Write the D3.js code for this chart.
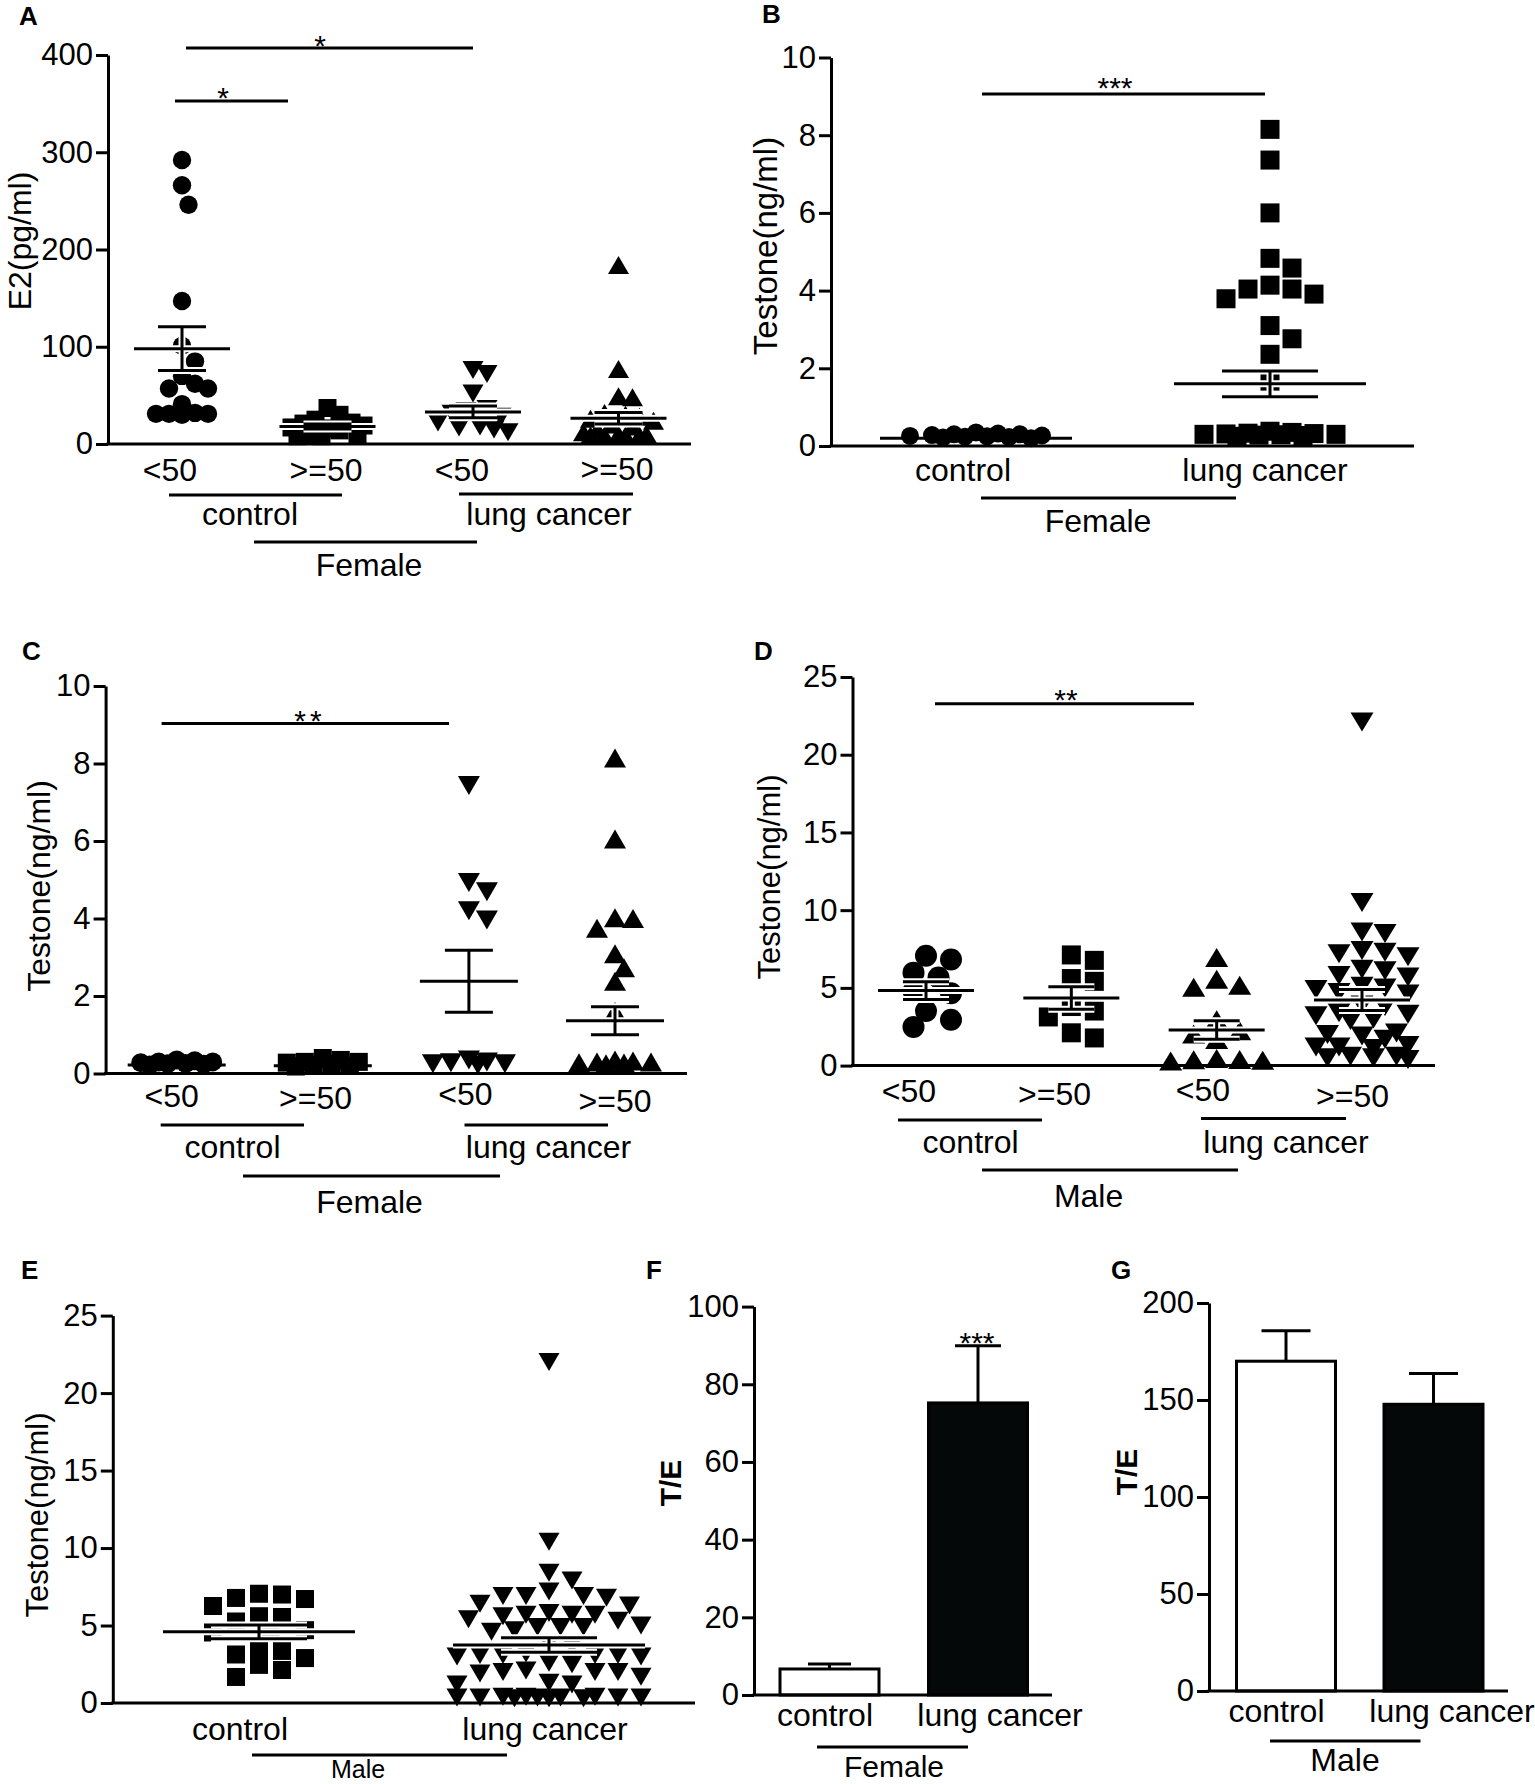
<!DOCTYPE html>
<html><head><meta charset="utf-8">
<script src="https://cdnjs.cloudflare.com/ajax/libs/d3/7.8.5/d3.min.js"></script>
<style>body{margin:0;background:#fff} svg{display:block}</style>
</head><body><svg id="c" width="1535" height="1784"></svg>
<script>
// ---------------- DATA ----------------
// Panel A: E2 (pg/ml), Female
const aCategories = ["<50", ">=50", "<50", ">=50"];
const aCtrlLt50 = [292, 266, 246, 147, 101, 85, 70, 62, 57, 57, 41, 32, 31, 31, 31, 30];
const aCtrlGe50 = [37, 30, 25, 22, 21, 19, 17, 16, 14, 10, 9, 8, 8];
const aLungLt50 = [76, 72, 52, 36, 34, 31, 28, 22, 18, 17, 15, 12];
const aLungGe50 = [184, 77, 49, 48, 32, 30, 28, 26, 24, 20, 18, 15, 12, 10, 10, 9, 9, 9, 9];
const aMeans = [98, 18, 33, 26.5];
const aSems = [22.5, 2.5, 6, 6];
const aTicks = [0, 100, 200, 300, 400];

// Panel B: Testone (ng/ml), Female
const bCategories = ["control", "lung cancer"];
const bControl = [0.32, 0.25, 0.3, 0.22, 0.28, 0.2, 0.26, 0.24, 0.35, 0.27, 0.23, 0.3];
const bLung = [8.15, 7.36, 6.0, 4.83, 4.58, 4.14, 4.04, 3.91, 3.79, 4.04, 3.1, 2.76, 2.36, 1.67,
               0.35, 0.3, 0.28, 0.32, 0.25, 0.38, 0.3, 0.27, 0.33, 0.29, 0.31];
const bMeans = [0.2, 1.6];
const bSems = [0.02, 0.33];
const bTicks = [0, 2, 4, 6, 8, 10];

// Panel C: Testone (ng/ml), Female by age
const cCategories = ["<50", ">=50", "<50", ">=50"];
const cCtrlLt50 = [0.3, 0.25, 0.35, 0.22, 0.28, 0.24, 0.3, 0.26, 0.33];
const cCtrlGe50 = [0.28, 0.22, 0.4, 0.18, 0.3, 0.2, 0.35, 0.25, 0.3];
const cLungLt50 = [7.43, 4.93, 4.69, 4.2, 3.96, 0.3, 0.25, 0.35, 0.22, 0.28, 0.25];
const cLungGe50 = [8.14, 6.05, 4.02, 4.0, 3.75, 3.09, 2.73, 2.38, 1.6, 0.35, 0.3, 0.28, 0.32, 0.25, 0.3, 0.27];
const cMeans = [0.22, 0.2, 2.38, 1.36];
const cSems = [0.02, 0.02, 0.8, 0.36];
const cTicks = [0, 2, 4, 6, 8, 10];

// Panel D: Testone (ng/ml), Male by age
const dCategories = ["<50", ">=50", "<50", ">=50"];
const dCtrlLt50 = [7.07, 6.82, 5.98, 5.67, 4.78, 4.66, 3.51, 2.95, 2.49];
const dCtrlGe50 = [7.12, 6.77, 5.6, 5.42, 3.8, 3.51, 3.13, 2.11, 1.78];
const dLungLt50 = [6.95, 5.55, 5.17, 5.04, 2.95, 2.24, 2.04, 1.68, 0.4, 0.35, 0.45, 0.3, 0.38];
const dLungGe50 = [22.1, 10.5, 8.6, 8.5, 7.4, 7.3, 7.2, 7.0, 6.2, 6.1, 5.8, 5.7, 5.0, 5.1, 4.9, 4.7, 4.6,
                   3.9, 3.8, 3.3, 3.4, 3.2, 3.0, 2.9, 2.0, 2.1, 1.9, 1.7, 1.2, 1.3, 1.1, 1.2, 0.5, 0.6, 0.5, 0.4, 0.6];
const dMeans = [4.83, 4.35, 2.29, 4.22];
const dSems = [0.57, 0.73, 0.6, 0.68];
const dTicks = [0, 5, 10, 15, 20, 25];

// Panel E: Testone (ng/ml), Male
const eCategories = ["control", "lung cancer"];
const eControl = [7.05, 7.0, 6.78, 6.71, 6.26, 5.6, 5.55, 5.26, 4.7, 4.59, 4.55, 3.58, 3.36, 3.13, 2.9, 2.46, 2.13, 1.68];
const eLung = [22.0, 10.4, 8.4, 7.9, 7.2, 6.9, 6.9, 6.8, 6.9, 6.4, 6.3, 5.7, 5.7, 5.6, 5.7, 5.8, 5.4, 5.3,
               4.9, 4.9, 5.0, 4.9, 4.7, 4.6, 3.8, 3.7, 3.1, 3.1, 3.2, 3.0, 3.1, 3.1, 3.0, 2.6, 2.5,
               2.0, 2.0, 1.9, 2.0, 2.1, 1.7, 1.2, 1.2, 1.3,
               0.35, 0.4, 0.3, 0.35, 0.4, 0.35, 0.3, 0.35, 0.4, 0.35, 0.3, 0.35];
const eMeans = [4.59, 3.74];
const eSems = [0.45, 0.47];
const eTicks = [0, 5, 10, 15, 20, 25];

// Panel F: T/E, Female (bars)
const fCategories = ["control", "lung cancer"];
const fMeans = [6.7, 75.2];
const fSems = [1.3, 14.7];
const fTicks = [0, 20, 40, 60, 80, 100];

// Panel G: T/E, Male (bars)
const gCategories = ["control", "lung cancer"];
const gMeans = [170, 147.8];
const gSems = [15.7, 15.9];
const gTicks = [0, 50, 100, 150, 200];

// ---------------- RENDER ----------------
const FONT = '"Liberation Sans", Arial, Helvetica, sans-serif';
const svg = d3.select("#c");

function txt(t, x, y, size, opts = {}) {
  const el = svg.append("text").attr("x", x).attr("y", y).text(t)
    .attr("font-family", FONT).attr("font-size", size).attr("fill", "#000")
    .attr("text-anchor", opts.anchor || "middle");
  if (opts.bold) el.attr("font-weight", "bold");
  if (opts.ls) el.attr("letter-spacing", opts.ls);
  return el;
}
function rotTxt(t, x, y, size, bold) {
  svg.append("text").attr("transform", `translate(${x},${y}) rotate(-90)`).text(t)
    .attr("font-family", FONT).attr("font-size", size).attr("fill", "#000")
    .attr("text-anchor", "middle").attr("font-weight", bold ? "bold" : "normal");
}
function hline(x1, x2, y, w = 3) {
  svg.append("line").attr("x1", x1).attr("x2", x2).attr("y1", y).attr("y2", y)
    .attr("stroke", "#000").attr("stroke-width", w);
}
function drawYAxis(y, x0, ticks) {
  const ax = d3.axisLeft(y).tickValues(ticks).tickSize(12).tickSizeOuter(0).tickPadding(3).tickFormat(d3.format("d"));
  const g = svg.append("g").attr("transform", `translate(${x0},0)`).call(ax);
  g.selectAll("path,line").attr("stroke", "#000").attr("stroke-width", 3);
  g.selectAll("text").attr("font-size", 31).attr("font-family", FONT).attr("fill", "#000");
}
function drawXAxis(x0, x1, y0) { hline(x0 - 1.5, x1, y0, 3); }

function swarm(vals, y, dX, dY, maxHalf) {
  const s = dX / 2;
  const pts = vals.map(v => ({ v, py: y(v), dx: 0 })).sort((a, b) => b.v - a.v);
  const placed = [];
  const kmax = Math.floor(maxHalf / s + 1e-6);
  for (const p of pts) {
    let best = 0, bestScore = -Infinity, found = false;
    for (let k = 0; k <= kmax && !found; k++) {
      for (const sign of (k === 0 ? [1] : [1, -1])) {
        const off = sign * k * s;
        let mind = Infinity;
        for (const q of placed) {
          const d = Math.hypot((off - q.dx) / dX, (p.py - q.py) / dY);
          if (d < mind) mind = d;
        }
        if (mind >= 1) { best = off; found = true; break; }
        if (mind > bestScore + 1e-9) { bestScore = mind; best = off; }
      }
    }
    p.dx = best; placed.push(p);
  }
  return pts;
}

function drawMarkers(pts, cx, shape, sz) {
  const g = svg.append("g");
  pts.forEach(p => {
    const x = cx + p.dx, yy = p.py;
    if (shape === "circle") {
      g.append("circle").attr("cx", x).attr("cy", yy).attr("r", sz.r).attr("fill", "#000");
    } else if (shape === "square") {
      g.append("rect").attr("x", x - sz.s / 2).attr("y", yy - sz.s / 2).attr("width", sz.s).attr("height", sz.s).attr("fill", "#000");
    } else {
      const w = sz.w, h = sz.h;
      const d = shape === "up"
        ? `M${x},${yy - h / 2}L${x + w / 2},${yy + h / 2}L${x - w / 2},${yy + h / 2}Z`
        : `M${x},${yy + h / 2}L${x + w / 2},${yy - h / 2}L${x - w / 2},${yy - h / 2}Z`;
      g.append("path").attr("d", d).attr("fill", "#000");
    }
  });
}

function meanSem(cx, y, m, s, half, cap, halo) {
  const segs = [
    [cx - half, y(m), cx + half, y(m)],
    [cx, y(m + s), cx, y(m - s)],
    [cx - cap, y(m + s), cx + cap, y(m + s)],
    [cx - cap, y(m - s), cx + cap, y(m - s)]
  ];
  const g = svg.append("g");
  const passes = halo ? [["#fff", 7], ["#000", 3]] : [["#000", 3]];
  passes.forEach(([c, w]) => {
    segs.forEach(sg => g.append("line").attr("x1", sg[0]).attr("y1", sg[1]).attr("x2", sg[2]).attr("y2", sg[3])
      .attr("stroke", c).attr("stroke-width", w));
  });
}

function scatterPanel(cfg) {
  const y = d3.scaleLinear().domain([cfg.ticks[0], cfg.ticks[cfg.ticks.length - 1]]).range([cfg.y0, cfg.yTop]);
  const x = d3.scalePoint().domain(d3.range(cfg.groups.length)).range(cfg.centers);
  cfg.groups.forEach((gr, i) => { if (gr.under) meanSem(x(i), y, cfg.means[i], cfg.sems[i], cfg.half, cfg.cap, false); });
  cfg.groups.forEach((gr, i) => {
    const pts = swarm(gr.vals, y, gr.dX || cfg.dX, cfg.dY, gr.maxHalf || cfg.maxHalf);
    drawMarkers(pts, x(i), gr.shape, cfg.size);
  });
  cfg.groups.forEach((gr, i) => { if (!gr.under) meanSem(x(i), y, cfg.means[i], cfg.sems[i], cfg.half, cfg.cap, true); });
  drawYAxis(y, cfg.x0, cfg.ticks);
  drawXAxis(cfg.x0, cfg.xEnd, cfg.y0);
  cfg.catLabels.forEach((t, i) => txt(t, cfg.catPos[i][0], cfg.catPos[i][1], 32));
  commonDecor(cfg);
}

function commonDecor(cfg) {
  (cfg.lines || []).forEach(l => hline(l[0], l[1], l[2], 3));
  (cfg.texts || []).forEach(t => txt(t[0], t[1], t[2], t[3] || 32));
  (cfg.sig || []).forEach(s => { if (s.x2 > s.x1) hline(s.x1, s.x2, s.y, 3); txt(s.t, s.tx, s.ty, 30, { ls: s.ls }); });
  rotTxt(cfg.ylabel[0], cfg.ylabel[1], cfg.ylabel[2], cfg.ylabel[3], cfg.ylabel[4]);
  txt(cfg.letter[0], cfg.letter[1], cfg.letter[2], 26, { bold: true, anchor: "start" });
}

function barPanel(cfg) {
  const y = d3.scaleLinear().domain([cfg.ticks[0], cfg.ticks[cfg.ticks.length - 1]]).range([cfg.y0, cfg.yTop]);
  const x = d3.scalePoint().domain(cfg.cats).range(cfg.centers);
  const bw = cfg.barW;
  cfg.cats.forEach((c, i) => {
    const m = cfg.means[i], s = cfg.sems[i];
    svg.append("line").attr("x1", x(c)).attr("x2", x(c)).attr("y1", y(m)).attr("y2", y(m + s))
      .attr("stroke", "#000").attr("stroke-width", 3);
    hline(x(c) - cfg.cap[i], x(c) + cfg.cap[i], y(m + s), 3);
    svg.append("rect").attr("x", x(c) - bw / 2).attr("y", y(m)).attr("width", bw).attr("height", y(0) - y(m))
      .attr("fill", cfg.fills[i]).attr("stroke", "#000").attr("stroke-width", 3);
  });
  drawYAxis(y, cfg.x0, cfg.ticks);
  drawXAxis(cfg.x0, cfg.xEnd, cfg.y0);
  cfg.cats.forEach((t, i) => txt(t, cfg.catPos[i][0], cfg.catPos[i][1], 32));
  commonDecor(cfg);
}

// Panel A
scatterPanel({
  x0: 108, xEnd: 691, y0: 444, yTop: 55, ticks: aTicks,
  centers: [182, 618.5], dX: 12, dY: 20, maxHalf: 36,
  size: { r: 9.2, s: 18, w: 21, h: 18 }, half: 48, cap: 24,
  groups: [
    { vals: aCtrlLt50, shape: "circle", dX: 13 }, { vals: aCtrlGe50, shape: "square" },
    { vals: aLungLt50, shape: "down", dX: 14 }, { vals: aLungGe50, shape: "up", dX: 14 }],
  means: aMeans, sems: aSems,
  catLabels: aCategories, catPos: [[170, 481], [326, 481], [462, 481], [617, 480]],
  lines: [[169, 342, 495], [459, 633, 494], [254, 477, 542]],
  texts: [["control", 250, 525], ["lung cancer", 549, 525], ["Female", 369, 576]],
  sig: [{ x1: 186, x2: 473, y: 48, t: "*", tx: 320, ty: 56 }, { x1: 175, x2: 288, y: 101, t: "*", tx: 223, ty: 108 }],
  ylabel: ["E2(pg/ml)", 31, 241, 32], letter: ["A", 19, 25]
});

// Panel B
scatterPanel({
  x0: 831, xEnd: 1414, y0: 446, yTop: 57.5, ticks: bTicks,
  centers: [976, 1270], dX: 22, dY: 17, maxHalf: 82,
  size: { r: 9, s: 19, w: 21, h: 18 }, half: 96, cap: 48,
  groups: [{ vals: bControl, shape: "circle", under: true }, { vals: bLung, shape: "square" }],
  means: bMeans, sems: bSems,
  catLabels: bCategories, catPos: [[963, 481], [1265, 481]],
  lines: [[981, 1236, 498]],
  texts: [["Female", 1098, 532]],
  sig: [{ x1: 982, x2: 1265, y: 94, t: "***", tx: 1115, ty: 98 }],
  ylabel: ["Testone(ng/ml)", 777, 246, 33], letter: ["B", 762, 23]
});

// Panel C
scatterPanel({
  x0: 105.6, xEnd: 687, y0: 1073.5, yTop: 686, ticks: cTicks,
  centers: [176.7, 615], dX: 18, dY: 15, maxHalf: 36,
  size: { r: 9.5, s: 18, w: 22, h: 19 }, half: 49, cap: 24,
  groups: [
    { vals: cCtrlLt50, shape: "circle", under: true }, { vals: cCtrlGe50, shape: "square", under: true },
    { vals: cLungLt50, shape: "down" }, { vals: cLungGe50, shape: "up" }],
  means: cMeans, sems: cSems,
  catLabels: cCategories, catPos: [[171.6, 1107], [315.6, 1109], [465.5, 1105], [615, 1112]],
  lines: [[160.7, 304, 1125], [464.5, 608, 1125], [243, 500, 1176]],
  texts: [["control", 232.5, 1158], ["lung cancer", 548.5, 1158], ["Female", 369.5, 1212.5]],
  sig: [{ x1: 161.6, x2: 449, y: 723.5, t: "**", tx: 310, ty: 730.5, ls: 4 }],
  ylabel: ["Testone(ng/ml)", 50, 886, 32], letter: ["C", 22, 659.5]
});

// Panel D
scatterPanel({
  x0: 852.5, xEnd: 1435, y0: 1065.6, yTop: 677, ticks: dTicks,
  centers: [926, 1362], dX: 23, dY: 17, maxHalf: 46,
  size: { r: 11, s: 19, w: 23, h: 19 }, half: 48, cap: 23,
  groups: [
    { vals: dCtrlLt50, shape: "circle", dX: 25 }, { vals: dCtrlGe50, shape: "square" },
    { vals: dLungLt50, shape: "up" }, { vals: dLungGe50, shape: "down" }],
  means: dMeans, sems: dSems,
  catLabels: dCategories, catPos: [[909, 1102], [1054.6, 1105], [1203, 1101], [1352.6, 1106.6]],
  lines: [[898, 1042, 1120], [1201, 1346, 1118.5], [982, 1238, 1170]],
  texts: [["control", 970.6, 1153], ["lung cancer", 1286, 1153], ["Male", 1088.6, 1206.6]],
  sig: [{ x1: 935, x2: 1194, y: 703.7, t: "**", tx: 1066, ty: 709.5 }],
  ylabel: ["Testone(ng/ml)", 780, 877, 31], letter: ["D", 754, 659.5]
});

// Panel E
scatterPanel({
  x0: 112.8, xEnd: 695, y0: 1703, yTop: 1315.6, ticks: eTicks,
  centers: [259, 549], dX: 23, dY: 17, maxHalf: 46,
  size: { r: 9, s: 18, w: 21, h: 18 }, half: 96, cap: 48,
  groups: [{ vals: eControl, shape: "square" }, { vals: eLung, shape: "down", maxHalf: 92 }],
  means: eMeans, sems: eSems,
  catLabels: eCategories, catPos: [[240, 1740], [545, 1740]],
  lines: [[252, 507, 1755]],
  texts: [["Male", 358, 1778, 25]],
  sig: [],
  ylabel: ["Testone(ng/ml)", 48, 1515, 31], letter: ["E", 21, 1279]
});

// Panel F
barPanel({
  x0: 754, xEnd: 1052, y0: 1695, yTop: 1306.6, ticks: fTicks,
  cats: fCategories, centers: [829.5, 978], barW: 99, cap: [21.5, 23],
  fills: ["#fff", "#050808"], means: fMeans, sems: fSems,
  catPos: [[825, 1726], [1000, 1726]],
  lines: [[817, 968, 1747]],
  texts: [["Female", 894, 1777, 30]],
  sig: [{ x1: 0, x2: 0, y: 0, t: "***", tx: 977, ty: 1352.5 }],
  ylabel: ["T/E", 681, 1483, 30, true], letter: ["F", 646, 1279]
});

// Panel G
barPanel({
  x0: 1209, xEnd: 1508, y0: 1691, yTop: 1303, ticks: gTicks,
  cats: gCategories, centers: [1286, 1433.5], barW: 99, cap: [24.5, 24.5],
  fills: ["#fff", "#050808"], means: gMeans, sems: gSems,
  catPos: [[1276.5, 1722], [1452, 1722]],
  lines: [[1270, 1420.5, 1741]],
  texts: [["Male", 1345, 1771]],
  sig: [],
  ylabel: ["T/E", 1137, 1472, 30, true], letter: ["G", 1111, 1279]
});
</script>
</body></html>
